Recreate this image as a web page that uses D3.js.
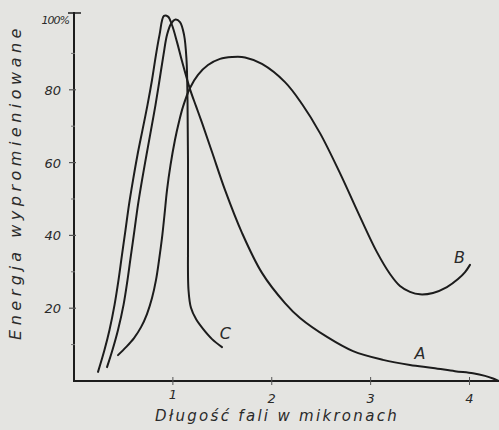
<!DOCTYPE html>
<html>
<head>
<meta charset="utf-8">
<script src="https://cdn.jsdelivr.net/npm/d3@7"></script>
<style>
  body { margin: 0; background: #e4e4e1; }
  svg { display: block; }
  text { font-family: 'DejaVu Sans', sans-serif; font-style: italic; fill: #2a2a2a; }
</style>
</head>
<body>
<script>
// wavelength (microns) / emitted energy (%)
var curveA = [
  [0.243, 2.5], [0.308, 8.5], [0.359, 14.0], [0.410, 20.9], [0.450, 27.7], [0.485, 34.6],
  [0.521, 41.5], [0.556, 48.4], [0.597, 55.2], [0.642, 62.1], [0.693, 69.0], [0.743, 75.8],
  [0.789, 82.7], [0.829, 89.6], [0.865, 95.1], [0.910, 100.3], [0.951, 100.1],
  [0.991, 97.8], [1.042, 93.1], [1.092, 87.9], [1.173, 80.2], [1.234, 75.5], [1.295, 70.9],
  [1.396, 62.9], [1.527, 52.5], [1.699, 40.7], [1.901, 29.7], [2.134, 21.4], [2.286, 17.3],
  [2.559, 12.1], [2.822, 8.2], [3.125, 5.8], [3.398, 4.4], [3.631, 3.6], [3.853, 2.7],
  [4.035, 2.1], [4.157, 1.4], [4.238, 0.7], [4.298, 0]
];
var curveB = [
  [0.445, 7.1], [0.526, 9.3], [0.607, 11.8], [0.678, 14.8], [0.738, 18.4], [0.789, 22.8],
  [0.829, 27.7], [0.860, 33.2], [0.890, 39.3], [0.915, 45.6], [0.941, 52.5], [0.976, 59.3],
  [1.021, 66.2], [1.062, 71.2], [1.102, 75.3], [1.173, 80.5], [1.254, 84.1], [1.355, 86.8],
  [1.477, 88.5], [1.598, 89.0], [1.730, 88.9], [1.901, 87.1], [2.134, 82.1], [2.306, 76.1],
  [2.488, 68.1], [2.690, 57.1], [2.893, 45.1], [3.064, 35.4], [3.196, 29.4], [3.297, 26.1],
  [3.398, 24.5], [3.499, 23.8], [3.631, 24.2], [3.772, 25.8], [3.884, 28.0], [3.955, 29.9],
  [4.005, 31.9]
];
var curveC = [
  [0.334, 3.8], [0.389, 8.5], [0.445, 14.0], [0.501, 20.9], [0.541, 27.7], [0.576, 34.6],
  [0.612, 41.5], [0.647, 48.4], [0.688, 55.2], [0.733, 62.1], [0.779, 69.0], [0.824, 75.8],
  [0.865, 82.7], [0.905, 89.6], [0.941, 95.1], [0.981, 98.1], [1.027, 99.3],
  [1.072, 98.6], [1.113, 95.1], [1.138, 88.2], [1.148, 77.2], [1.153, 60.7], [1.153, 38.7],
  [1.158, 25.0], [1.183, 20.1], [1.234, 17.0], [1.305, 14.3], [1.396, 11.5], [1.497, 9.3]
];
var xTicks = [1, 2, 3, 4];
var yTicks = [20, 40, 60, 80];
var yMinor = [10, 30, 50, 70, 90];
var curveLabels = [
  { name: 'A', x: 3.50, y: 6.0 },
  { name: 'B', x: 3.90, y: 32.4 },
  { name: 'C', x: 1.53, y: 11.5 }
];

var svg = d3.select('body').append('svg').attr('width', 499).attr('height', 430);

var x = d3.scaleLinear().domain([0, 4]).range([74, 469.5]);
var y = d3.scaleLinear().domain([0, 100]).range([381, 17]);

var ink = '#1c1c1c';

// axes
svg.append('line').attr('x1', x(0)).attr('x2', 499).attr('y1', y(0)).attr('y2', y(0))
  .attr('stroke', ink).attr('stroke-width', 2);
svg.append('line').attr('x1', x(0)).attr('x2', x(0)).attr('y1', y(0) + 1).attr('y2', 12)
  .attr('stroke', ink).attr('stroke-width', 2);
svg.append('line').attr('x1', x(0) - 6).attr('x2', x(0) + 7).attr('y1', 13).attr('y2', 13)
  .attr('stroke', ink).attr('stroke-width', 1.5);

svg.selectAll('.xtick').data(xTicks).enter().append('line')
  .attr('x1', function (d) { return x(d); }).attr('x2', function (d) { return x(d); })
  .attr('y1', y(0) - 4).attr('y2', y(0) + 4).attr('stroke', '#555').attr('stroke-width', 1);

svg.selectAll('.xlab').data(xTicks).enter().append('text')
  .attr('x', function (d) { return x(d); }).attr('y', function (d) { return d === 1 ? 399 : 403; })
  .attr('text-anchor', 'middle').attr('font-size', 13)
  .text(function (d) { return d; });

svg.selectAll('.ytick').data(yTicks).enter().append('line')
  .attr('x1', x(0) - 5).attr('x2', x(0) + 2)
  .attr('y1', function (d) { return y(d); }).attr('y2', function (d) { return y(d); })
  .attr('stroke', '#555').attr('stroke-width', 1.2);

svg.selectAll('.yminor').data(yMinor).enter().append('line')
  .attr('x1', x(0) - 3).attr('x2', x(0) + 1)
  .attr('y1', function (d) { return y(d); }).attr('y2', function (d) { return y(d); })
  .attr('stroke', '#777').attr('stroke-width', 1);

svg.selectAll('.ylab').data(yTicks).enter().append('text')
  .attr('x', x(0) - 13).attr('y', function (d) { return y(d) + 5; })
  .attr('text-anchor', 'end').attr('font-size', 13)
  .text(function (d) { return d; });

svg.append('text').attr('x', x(0) - 5).attr('y', 24).attr('text-anchor', 'end')
  .attr('font-size', 11).attr('letter-spacing', -1).text('100%');

// axis titles
svg.append('text').attr('x', 277).attr('y', 421).attr('text-anchor', 'middle')
  .attr('font-size', 15).attr('letter-spacing', 2.3).text('Długość  fali  w mikronach');

svg.append('text').attr('transform', 'translate(21,182) rotate(-90)')
  .attr('text-anchor', 'middle').attr('font-size', 16).attr('letter-spacing', 4.5)
  .text('Energja  wypromieniowane');

// curves
var line = d3.line()
  .x(function (d) { return x(d[0]); })
  .y(function (d) { return y(d[1]); })
  .curve(d3.curveCatmullRom.alpha(0.5));

[curveA, curveB, curveC].forEach(function (c) {
  svg.append('path').attr('d', line(c)).attr('fill', 'none')
    .attr('stroke', ink).attr('stroke-width', 2).attr('stroke-linecap', 'round');
});

svg.selectAll('.clab').data(curveLabels).enter().append('text')
  .attr('x', function (d) { return x(d.x); }).attr('y', function (d) { return y(d.y); })
  .attr('text-anchor', 'middle').attr('font-size', 16)
  .text(function (d) { return d.name; });
</script>
</body>
</html>
